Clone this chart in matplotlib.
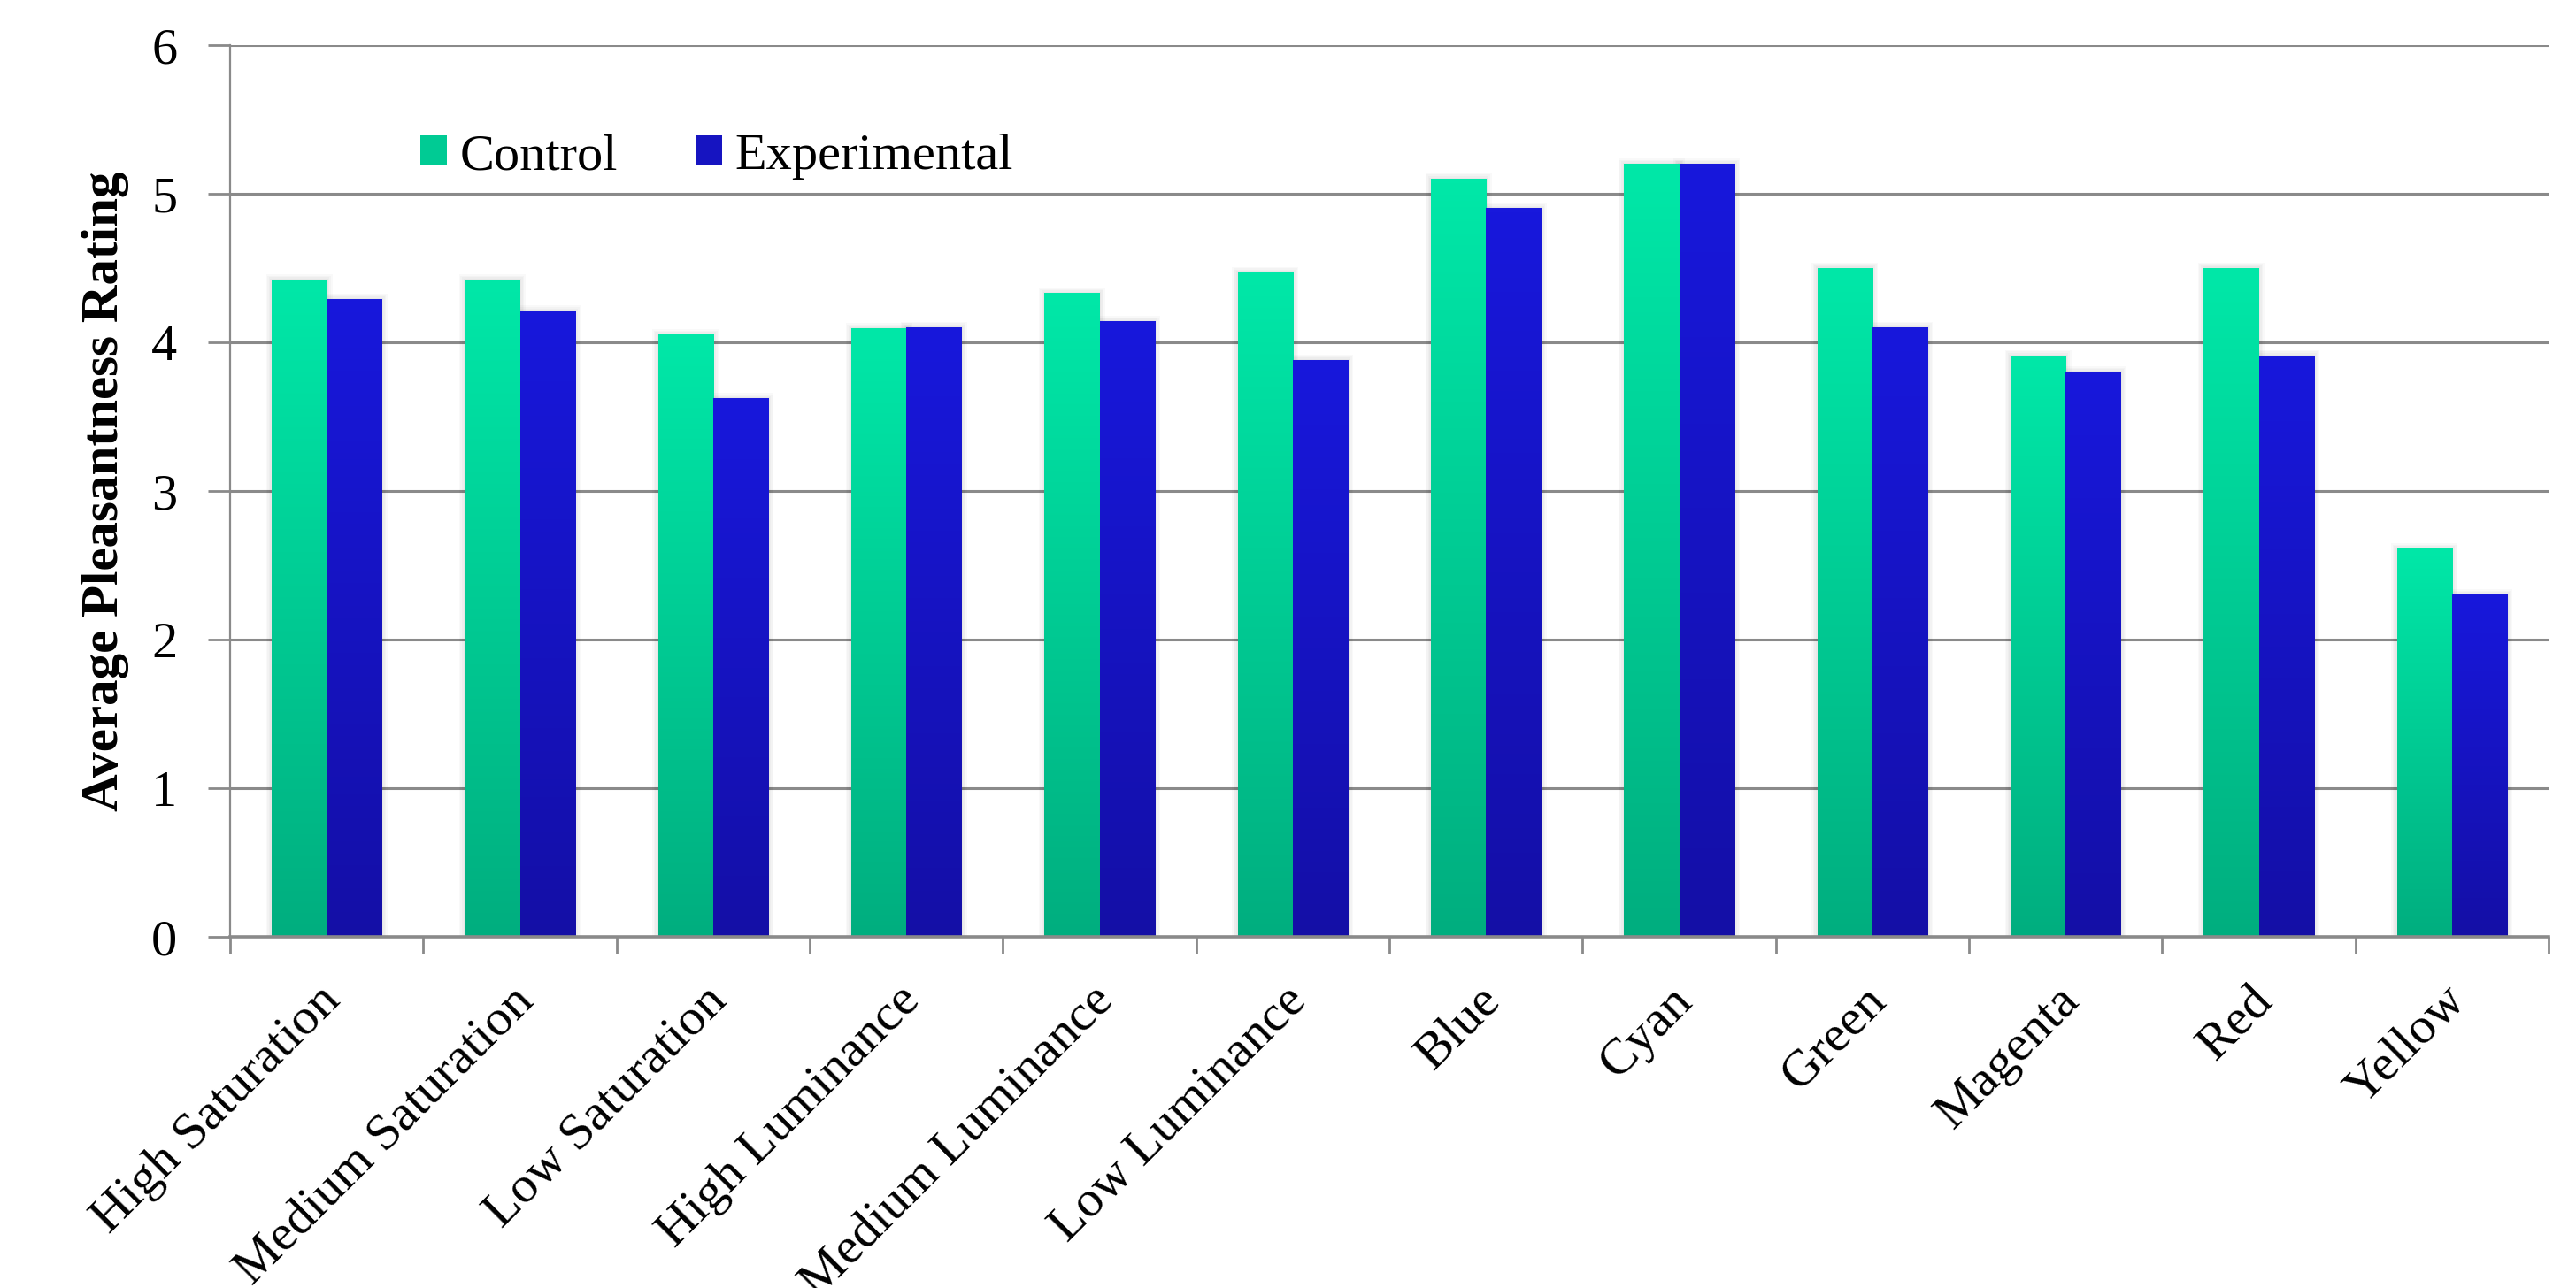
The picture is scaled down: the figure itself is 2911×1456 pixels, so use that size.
import matplotlib.pyplot as plt
import numpy as np
from matplotlib.colors import LinearSegmentedColormap
from matplotlib.transforms import ScaledTranslation

# values
categories = ['High Saturation', 'Medium Saturation', 'Low Saturation',
              'High Luminance', 'Medium Luminance', 'Low Luminance',
              'Blue', 'Cyan', 'Green', 'Magenta', 'Red', 'Yellow']
control = [4.42, 4.42, 4.05, 4.09, 4.33, 4.47, 5.10, 5.20, 4.50, 3.91, 4.50, 2.61]
experimental = [4.29, 4.21, 3.62, 4.10, 4.14, 3.88, 4.90, 5.20, 4.10, 3.80, 3.91, 2.30]
yticks = [0, 1, 2, 3, 4, 5, 6]

plt.rcParams['font.family'] = ['Liberation Serif', 'DejaVu Serif']

GRID = '#8a8a8a'
FS = 42


def gradient_bars(ax, xs, heights, width, top, bottom, label):
    cmap = LinearSegmentedColormap.from_list(label, [bottom, top])
    mid = cmap(0.5)
    bars = ax.bar(xs, heights, width, color=mid, label=label, linewidth=0, zorder=2)
    grad = np.linspace(0, 1, 256)[:, None]
    for b in bars:
        x0, w, h = b.get_x(), b.get_width(), b.get_height()
        # soft shadow around the bar
        for k in range(1, 5):
            dx = k * 1.6 / 218.4
            dy = k * 1.6 / 168.0
            ax.add_patch(plt.Rectangle((x0 - dx, 0), w + 2 * dx, h + dy,
                                       color='#000000', alpha=0.025, lw=0, zorder=1.5))
        ax.imshow(grad, cmap=cmap, origin='lower', aspect='auto',
                  extent=(x0, x0 + w, 0, h), zorder=2.1, interpolation='bilinear')
    return bars


fig = plt.figure(figsize=(29.11, 14.56), dpi=100)
ax = fig.add_axes([260 / 2911, 1 - 1059 / 1456, 2620 / 2911, 1008 / 1456])

x = np.arange(len(categories))
w = 0.285
gradient_bars(ax, x - w / 2, control, w, '#00e8a8', '#00ae7f', 'Control')
gradient_bars(ax, x + w / 2, experimental, w, '#1818dc', '#140fa6', 'Experimental')

ax.set_xlim(-0.5, len(categories) - 0.5)
ax.set_ylim(0, 6)
ax.set_yticks(yticks)
ax.tick_params(axis='y', labelsize=FS, length=18, width=2, color=GRID, pad=25)
ax.yaxis.grid(True, color=GRID, linewidth=2.2)
ax.set_axisbelow(True)

# category boundaries get the tick marks, names sit between them
ax.set_xticks(np.arange(-0.5, len(categories)), labels=[])
ax.set_xticks(x, labels=categories, minor=True)
ax.tick_params(axis='x', which='major', length=14, width=2, color=GRID)
ax.tick_params(axis='x', which='minor', length=0, labelsize=FS, pad=33)
for lbl in ax.get_xticklabels(minor=True):
    lbl.set_rotation(45)
    lbl.set_ha('right')
    lbl.set_va('top')
    lbl.set_rotation_mode('anchor')
    lbl.set_transform(lbl.get_transform() + ScaledTranslation(-0.11, 0, fig.dpi_scale_trans))

for s in ['top', 'right']:
    ax.spines[s].set_visible(False)
ax.spines['left'].set_color(GRID)
ax.spines['left'].set_linewidth(1.6)
ax.spines['bottom'].set_color(GRID)
ax.spines['bottom'].set_linewidth(2.6)

ax.set_ylabel('Average Pleasantness Rating', fontsize=42.5, fontweight='bold', labelpad=18)

ax.legend(loc='center left', bbox_to_anchor=(0.082, 0.875), ncol=2, frameon=False,
          fontsize=FS, handlelength=0.52, handleheight=0.52, handletextpad=0.25,
          columnspacing=1.5, borderpad=0, borderaxespad=0)

fig.savefig('out.png', dpi=100)
